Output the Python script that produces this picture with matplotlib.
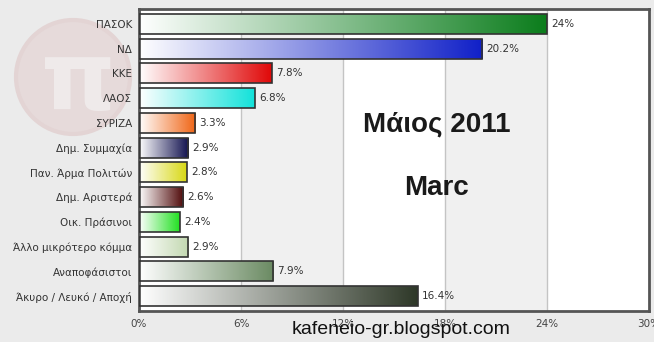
import numpy as np
import matplotlib.pyplot as plt
from matplotlib.colors import LinearSegmentedColormap
from matplotlib.patches import Circle

parties = ['ΠΑΣΟΚ', 'ΝΔ', 'ΚΚΕ', 'ΛΑΟΣ', 'ΣΥΡΙΖΑ', 'Δημ. Συμμαχία', 'Παν. Άρμα Πολιτών',
           'Δημ. Αριστερά', 'Οικ. Πράσινοι', 'Άλλο μικρότερο κόμμα', 'Αναποφάσιστοι',
           'Άκυρο / Λευκό / Αποχή']
values = [24, 20.2, 7.8, 6.8, 3.3, 2.9, 2.8, 2.6, 2.4, 2.9, 7.9, 16.4]
labels = ['24%', '20.2%', '7.8%', '6.8%', '3.3%', '2.9%', '2.8%', '2.6%', '2.4%', '2.9%', '7.9%', '16.4%']
colors = ['#0b7d1c', '#1020c8', '#e00808', '#12e2da', '#f06414', '#10104e', '#d8d814',
          '#4e0808', '#22e022', '#c2d8b0', '#6a8a62', '#2e3828']
xticks = [0, 6, 12, 18, 24, 30]

fig = plt.figure(figsize=(6.54, 3.42), dpi=100)
fig.patch.set_facecolor('#ebebeb')

# faint watermark logo
wm = fig.add_axes([0, 0, 1, 1], zorder=-1)
wm.set_xlim(0, 654)
wm.set_ylim(342, 0)
wm.axis('off')
wm.add_patch(Circle((73, 77), 57, facecolor='#e6dada', edgecolor='#e3d4d4', lw=3))
wm.text(78, 84, 'π', fontsize=68, color='#efeaea', ha='center', va='center', fontweight='bold')

ax = fig.add_axes([139 / 654, 1 - 311 / 342, 510 / 654, 302 / 342])
ax.set_facecolor('white')
ax.set_xlim(0, 30)
ax.set_ylim(len(parties) - 0.4, -0.6)

# alternating bands
for i in range(len(xticks) - 1):
    if i % 2 == 1:
        ax.axvspan(xticks[i], xticks[i + 1], color='#f0f0f0', zorder=0, lw=0)
for x in xticks[1:-1]:
    ax.axvline(x, color='#c4c4c4', lw=1, zorder=1)

h = 0.8
bars = ax.barh(range(len(parties)), values, height=h, facecolor='none',
               edgecolor='#333333', lw=1.2, zorder=3)
grad = np.linspace(0, 1, 256).reshape(1, -1)
for i, (b, v, c) in enumerate(zip(bars, values, colors)):
    cmap = LinearSegmentedColormap.from_list('g', ['#ffffff', c])
    im = ax.imshow(grad, cmap=cmap, aspect='auto', extent=(0, v, i + h / 2, i - h / 2),
                   zorder=2, interpolation='bilinear')
    im.set_clip_path(b)
    ax.text(v + 0.25, i, labels[i], va='center', ha='left', fontsize=7.5, color='#333333')

ax.set_yticks(range(len(parties)))
ax.set_yticklabels(parties, fontsize=7.5, color='#333333')
ax.set_xticks(xticks)
ax.set_xticklabels([f'{t}%' for t in xticks], fontsize=7.5, color='#444444')
ax.tick_params(length=0, pad=5)
ax.tick_params(axis='x', pad=6)
for s in ax.spines.values():
    s.set_color('#555555')
    s.set_linewidth(2)

ax.text(17.5, 4.05, 'Μάιος 2011', fontsize=20, fontweight='bold', family='Liberation Sans',
        color='#1a1a1a', ha='center', va='center')
ax.text(17.5, 6.65, 'Marc', fontsize=20, fontweight='bold', family='Liberation Sans',
        color='#1a1a1a', ha='center', va='center')
fig.text(401 / 654, 1 - 329 / 342, 'kafeneio-gr.blogspot.com', fontsize=14,
         family='Liberation Sans', color='#111111', ha='center', va='center')

fig.savefig('out.png', dpi=100, facecolor=fig.get_facecolor())
